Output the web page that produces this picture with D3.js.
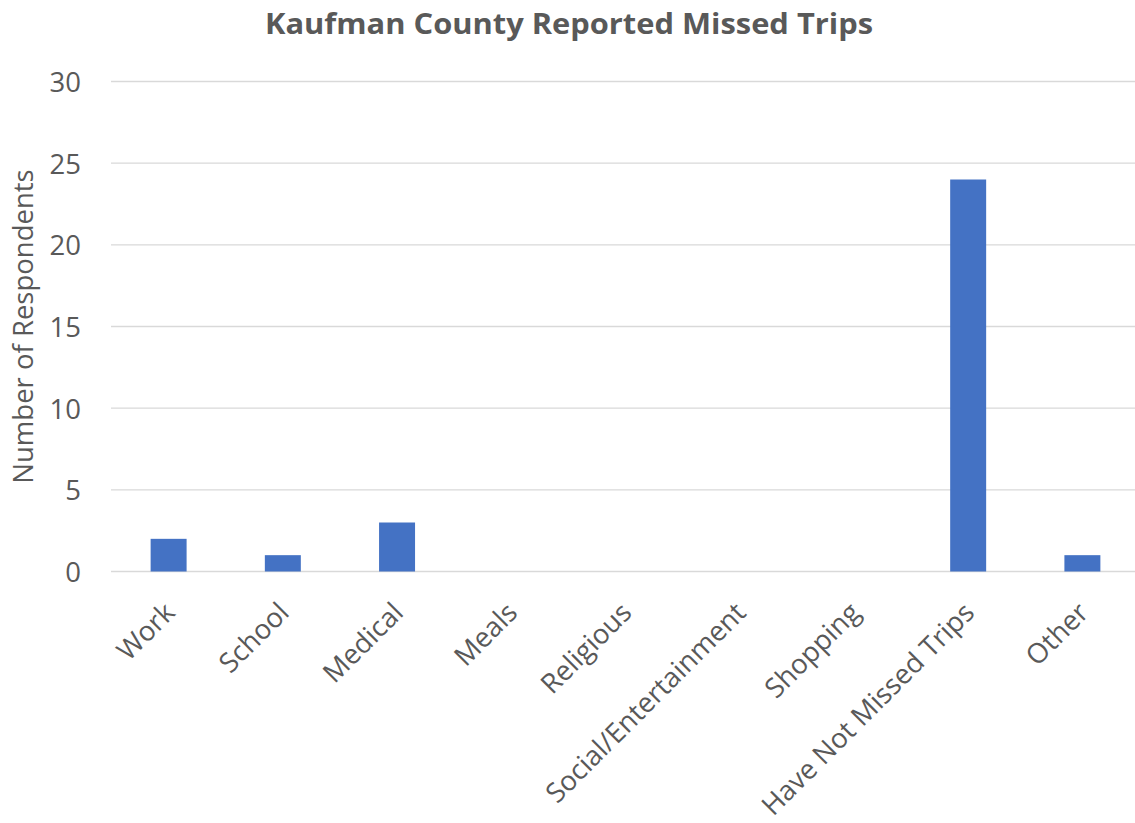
<!DOCTYPE html>
<html>
<head>
<meta charset="utf-8">
<script src="https://cdn.jsdelivr.net/npm/d3@7"></script>
<style>
  html, body { margin: 0; padding: 0; background: #fff; }
  svg { display: block; }
</style>
</head>
<body>
<svg id="chart" width="1135" height="823"></svg>
<script>
// Trip purposes respondents reported missing
const categories = ["Work", "School", "Medical", "Meals", "Religious",
  "Social/Entertainment", "Shopping", "Have Not Missed Trips", "Other"];
const respondents = [2, 1, 3, 0, 0, 0, 0, 24, 1];
const yTicks = [0, 5, 10, 15, 20, 25, 30];

const svg = d3.select("#chart");
const font = "'Open Sans', 'Liberation Sans', sans-serif";
const textColor = "#595959";
const labelSize = 27.5;

const x = d3.scaleBand().domain(categories).range([111.5, 1139.5]).paddingInner(0.685).paddingOuter(0.3425);
const y = d3.scaleLinear().domain([0, 30]).range([571.5, 81.5]);

// Title
svg.append("text")
  .attr("x", 569).attr("y", 34)
  .attr("text-anchor", "middle")
  .attr("font-family", font).attr("font-weight", "bold")
  .attr("font-size", 28.5).attr("fill", textColor)
  .attr("textLength", 608).attr("lengthAdjust", "spacingAndGlyphs")
  .text("Kaufman County Reported Missed Trips");

// Horizontal gridlines
svg.append("g").selectAll("line").data(yTicks).join("line")
  .attr("x1", 111).attr("x2", 1135)
  .attr("y1", d => y(d)).attr("y2", d => y(d))
  .attr("stroke", "#d9d9d9").attr("stroke-width", 1.3);

// Y axis labels
const yAxis = d3.axisLeft(y).tickValues(yTicks).tickSize(0).tickPadding(0);
const yg = svg.append("g").attr("transform", "translate(81,0)").call(yAxis);
yg.select(".domain").remove();
yg.selectAll("text")
  .attr("font-family", font).attr("font-size", labelSize).attr("fill", textColor)
  .attr("dy", "0.36em");

// Y axis title
svg.append("text")
  .attr("transform", `translate(33, ${(y(0) + y(30)) / 2}) rotate(-90)`)
  .attr("text-anchor", "middle")
  .attr("font-family", font).attr("font-size", labelSize).attr("fill", textColor)
  .text("Number of Respondents");

// Bars
svg.append("g").selectAll("rect").data(categories).join("rect")
  .attr("x", d => x(d))
  .attr("width", x.bandwidth())
  .attr("y", (d, i) => y(respondents[i]))
  .attr("height", (d, i) => y(0) - y(respondents[i]))
  .attr("fill", "#4472c4");

// X axis labels, rotated
const xAxis = d3.axisBottom(x).tickSize(0).tickPadding(0);
const xg = svg.append("g").attr("transform", "translate(0,607.5)").call(xAxis);
xg.select(".domain").remove();
xg.selectAll("text")
  .attr("font-family", font).attr("font-size", labelSize).attr("fill", textColor)
  .attr("text-anchor", "end")
  .attr("dy", "0.35em")
  .attr("transform", "translate(1,0) rotate(-45)");
</script>
</body>
</html>
